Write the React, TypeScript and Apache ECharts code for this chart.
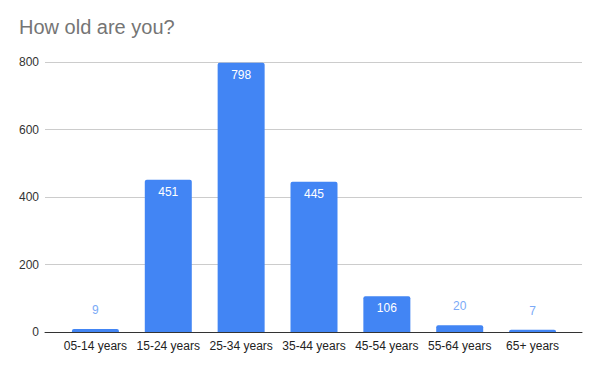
import React, { useEffect, useRef } from "react";
import * as echarts from "echarts";

const categories = ["05-14 years", "15-24 years", "25-34 years", "35-44 years", "45-54 years", "55-64 years", "65+ years"];
const counts = [9, 451, 798, 445, 106, 20, 7];
const yTicks = [0, 200, 400, 600, 800];
const insideThreshold = 60;

const FONT = "'Liberation Sans', Arial, sans-serif";

export default function App() {
  const ref = useRef<HTMLDivElement>(null);
  useEffect(() => {
    if (!ref.current) return;
    const chart = echarts.init(ref.current, null, { renderer: "svg" });
    const yMax = yTicks[yTicks.length - 1];
    chart.setOption({
      animation: false,
      backgroundColor: "#ffffff",
      title: {
        text: "How old are you?",
        left: 14,
        top: 12,
        textStyle: { fontFamily: FONT, fontSize: 20, fontWeight: "normal", color: "#757575" },
      },
      grid: [
        { left: 45, right: 18, top: 62, bottom: 39 },
        { left: 59, right: 31, top: 62, bottom: 39 },
      ],
      xAxis: [
        {
          gridIndex: 0,
          type: "value",
          min: 0,
          max: 1,
          axisLine: { show: true, lineStyle: { color: "#333333", width: 1 } },
          axisTick: { show: false },
          axisLabel: { show: false },
          splitLine: { show: false },
        },
        {
          gridIndex: 1,
          type: "category",
          data: categories,
          axisLine: { show: false },
          axisTick: { show: false },
          axisLabel: { fontFamily: FONT, fontSize: 12, color: "#222222", margin: 8, interval: 0 },
        },
      ],
      yAxis: [
        {
          gridIndex: 0,
          type: "value",
          min: 0,
          max: yMax,
          interval: 200,
          axisLine: { show: false },
          axisTick: { show: false },
          axisLabel: { fontFamily: FONT, fontSize: 12, color: "#333333", margin: 6 },
          splitLine: { show: true, lineStyle: { color: "#cccccc", width: 1 } },
        },
        {
          gridIndex: 1,
          type: "value",
          min: 0,
          max: yMax,
          show: false,
          splitLine: { show: false },
        },
      ],
      series: [
        {
          type: "bar",
          xAxisIndex: 1,
          yAxisIndex: 1,
          barWidth: 47,
          data: counts.map((v) => {
            const inside = v >= insideThreshold;
            return {
              value: v,
              label: inside
                ? { position: "insideTop", distance: 6, color: "#ffffff" }
                : { position: "top", distance: 13, color: "#7baaf7" },
            };
          }),
          itemStyle: { color: "#4285f4", borderRadius: [2, 2, 0, 0] },
          label: { show: true, fontFamily: FONT, fontSize: 12 },
        },
      ],
    });
    return () => chart.dispose();
  }, []);
  return <div ref={ref} style={{ width: 600, height: 371, margin: -8 }} />;
}
